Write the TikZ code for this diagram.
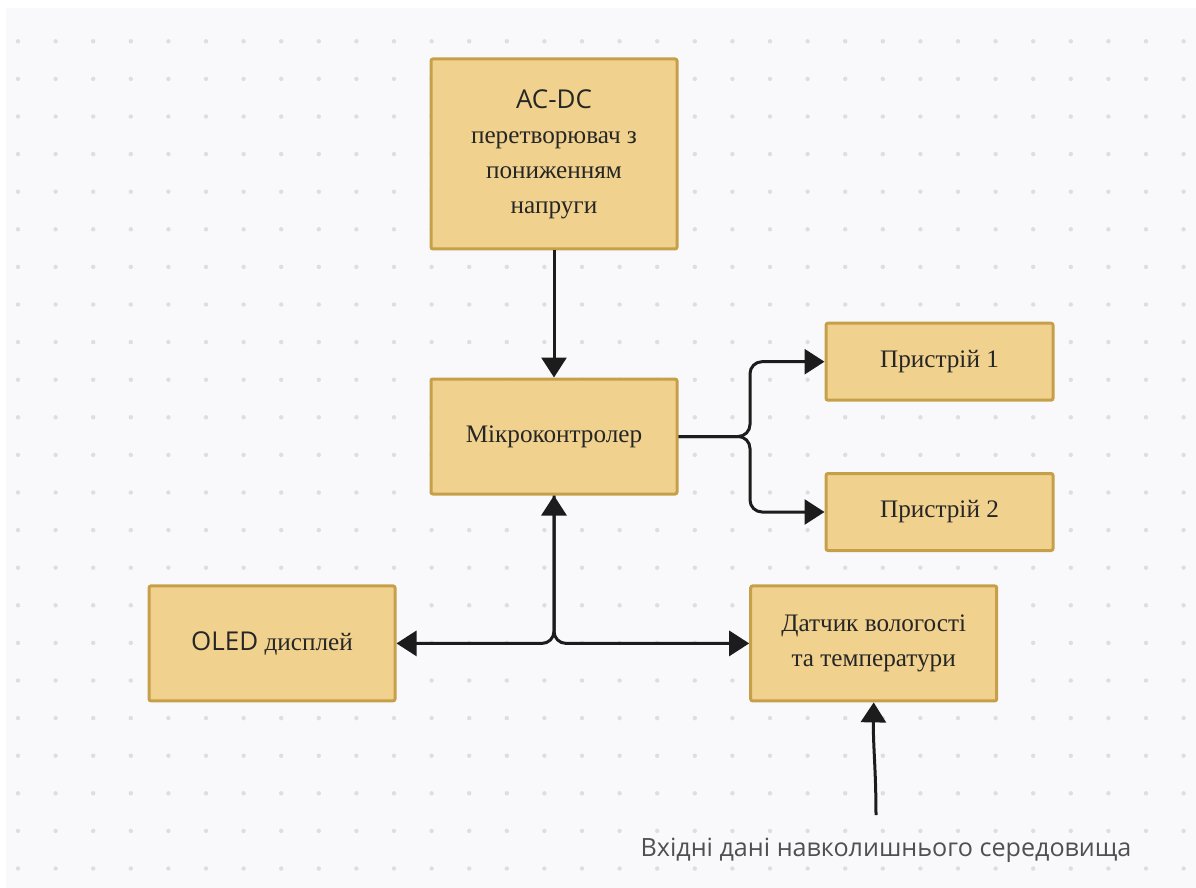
\documentclass[tikz,border=0pt]{standalone}
\usepackage{fontspec}
\setmainfont{Liberation Serif}
\newfontfamily\latinsans[Scale=1.03]{Open Sans}
\usetikzlibrary{arrows.meta}
\definecolor{blockfill}{RGB}{240,209,141}
\definecolor{blockline}{RGB}{198,160,72}
\definecolor{wire}{RGB}{28,28,28}
\definecolor{canvas}{RGB}{249,249,251}
\definecolor{griddot}{RGB}{222,222,226}
\definecolor{notetext}{RGB}{80,80,80}

\begin{document}
\begin{tikzpicture}[
  x=0.5pt, y=-0.5pt,
  >={Triangle[width=12.5pt,length=10pt]},
  block/.style={
    draw=blockline,
    fill=blockfill,
    line width=1.5pt,
    rounded corners=1pt,
    inner sep=0pt,
    align=center,
    text=black!85,
    font=\fontsize{12.6}{17.5}\selectfont,
  },
  bigblock/.style={block, minimum width=123pt, minimum height=57.5pt},
  smallblock/.style={block, minimum width=113.5pt, minimum height=38.5pt},
  wirearrow/.style={
    draw=wire,
    line width=1.5pt,
    line join=round,
    ->,
  },
  branch/.style={wirearrow, rounded corners=6pt},
]

\useasboundingbox (0,0) rectangle (1196,888);
\fill[white] (0,0) rectangle (1196,888);
\fill[canvas] (6,8) rectangle (1196,888);
\foreach \i in {0,...,31}
  \foreach \j in {0,...,22}
    \fill[griddot] (18+37.6*\i,41.3+37.6*\j) circle[radius=1.1pt];

\node[bigblock, minimum height=95pt] (acdc) at (554,154)
  {{\latinsans AC-DC}\\перетворювач з\\пониженням\\напруги};
\node[bigblock] (mcu) at (554,436.5) {Мікроконтролер};
\node[smallblock] (dev1) at (939.5,361.7) {Пристрій 1};
\node[smallblock] (dev2) at (939.5,512) {Пристрій 2};
\node[bigblock] (oled) at (272,643.4) {{\latinsans OLED} дисплей};
\node[bigblock] (sensor) at (873.7,643.4) {Датчик вологості\\та температури};
\node[font=\latinsans\fontsize{12.2}{14}\selectfont, text=notetext] (envin) at (886,850)
  {Вхідні дані навколишнього середовища};

\coordinate (fork) at (750,436.5);
\coordinate (junc) at (mcu.south |- oled.east);
\coordinate (envtail) at (876,815);

\draw[wirearrow] (acdc.south) -- (mcu.north);
\draw[branch] (mcu.east) -- (fork) |- (dev1.west);
\draw[branch] (mcu.east) -- (fork) |- (dev2.west);
\draw[branch, <->] (oled.east) -- (junc) -- (mcu.south);
\draw[branch] (mcu.south) -- (junc) -- (sensor.west);
\draw[wirearrow] (envtail) .. controls (876,770) and (873,745) .. (sensor.south);

\end{tikzpicture}
\end{document}
